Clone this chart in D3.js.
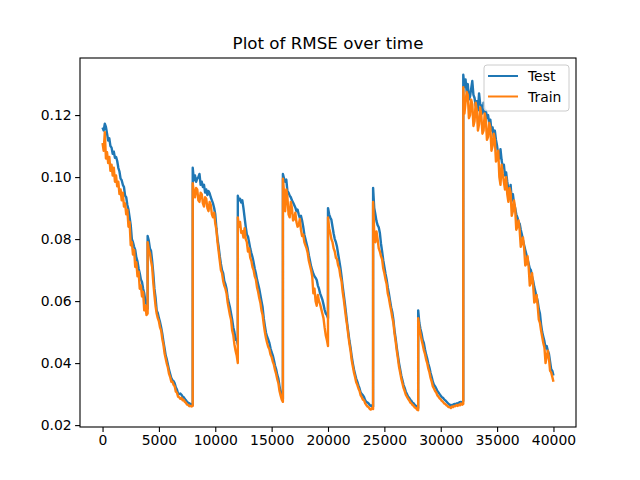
<!DOCTYPE html>
<html>
<head>
<meta charset="utf-8">
<script src="https://cdn.jsdelivr.net/npm/d3@7"></script>
<style>
  body { margin: 0; background: #fff; }
  svg { font-family: "DejaVu Sans", sans-serif; }
</style>
</head>
<body>
<svg id="chart" width="640" height="480"></svg>
<script>
// training runs restart at these steps, the last run goes to 40000
const runStarts = [0, 4000, 8000, 12000, 16000, 20000, 24000, 28000, 32000];
const runEnds = [4000, 8000, 12000, 16000, 20000, 24000, 28000, 32000, 40000];

const testRuns = [
  [0.1160, 0.1150, 0.1172, 0.1162, 0.1140, 0.1118, 0.1125, 0.1100, 0.1095, 0.1075, 0.1082,
   0.1062, 0.1065, 0.1052, 0.1030, 0.1018, 0.0995, 0.0990, 0.0975, 0.0968, 0.0940, 0.0935,
   0.0910, 0.0895, 0.0870, 0.0845, 0.0800, 0.0790, 0.0775, 0.0765, 0.0740, 0.0728, 0.0705,
   0.0690, 0.0670, 0.0662, 0.0640, 0.0625, 0.0600, 0.0590, 0.0575],
  [0.0810, 0.0795, 0.0770, 0.0762, 0.0730, 0.0690, 0.0640, 0.0612, 0.0570, 0.0562, 0.0545,
   0.0532, 0.0515, 0.0495, 0.0470, 0.0448, 0.0425, 0.0412, 0.0395, 0.0378, 0.0365, 0.0352,
   0.0345, 0.0342, 0.0335, 0.0322, 0.0315, 0.0302, 0.0300, 0.0302, 0.0298, 0.0292, 0.0290,
   0.0284, 0.0280, 0.0275, 0.0272, 0.0270, 0.0268, 0.0266, 0.0265],
  [0.1030, 0.0990, 0.1005, 0.0985, 0.0995, 0.1000, 0.1010, 0.0975, 0.0985, 0.0968, 0.0975,
   0.0950, 0.0960, 0.0942, 0.0955, 0.0948, 0.0935, 0.0925, 0.0915, 0.0900, 0.0880, 0.0835,
   0.0800, 0.0775, 0.0745, 0.0720, 0.0700, 0.0690, 0.0665, 0.0655, 0.0640, 0.0612, 0.0595,
   0.0580, 0.0560, 0.0540, 0.0515, 0.0500, 0.0475, 0.0478, 0.0460],
  [0.0940, 0.0925, 0.0930, 0.0918, 0.0925, 0.0900, 0.0870, 0.0840, 0.0815, 0.0808, 0.0790,
   0.0770, 0.0755, 0.0742, 0.0725, 0.0705, 0.0690, 0.0670, 0.0655, 0.0640, 0.0620, 0.0600,
   0.0580, 0.0545, 0.0520, 0.0498, 0.0485, 0.0476, 0.0465, 0.0448, 0.0435, 0.0425, 0.0410,
   0.0392, 0.0380, 0.0362, 0.0350, 0.0325, 0.0305, 0.0298, 0.0285],
  [0.1010, 0.0995, 0.0985, 0.0992, 0.0955, 0.0950, 0.0940, 0.0935, 0.0925, 0.0918, 0.0910,
   0.0902, 0.0890, 0.0895, 0.0880, 0.0868, 0.0875, 0.0860, 0.0840, 0.0815, 0.0800, 0.0785,
   0.0770, 0.0748, 0.0730, 0.0712, 0.0700, 0.0688, 0.0680, 0.0675, 0.0668, 0.0650, 0.0640,
   0.0625, 0.0615, 0.0605, 0.0590, 0.0572, 0.0560, 0.0555, 0.0545],
  [0.0900, 0.0880, 0.0870, 0.0862, 0.0840, 0.0818, 0.0800, 0.0790, 0.0775, 0.0752, 0.0730,
   0.0708, 0.0680, 0.0648, 0.0620, 0.0592, 0.0560, 0.0528, 0.0500, 0.0472, 0.0450, 0.0422,
   0.0400, 0.0380, 0.0365, 0.0350, 0.0340, 0.0328, 0.0318, 0.0305, 0.0300, 0.0296, 0.0290,
   0.0280, 0.0275, 0.0273, 0.0270, 0.0265, 0.0262, 0.0264, 0.0260],
  [0.0965, 0.0900, 0.0880, 0.0858, 0.0845, 0.0838, 0.0820, 0.0785, 0.0760, 0.0732, 0.0710,
   0.0688, 0.0670, 0.0645, 0.0625, 0.0602, 0.0580, 0.0565, 0.0540, 0.0505, 0.0480, 0.0450,
   0.0425, 0.0400, 0.0380, 0.0360, 0.0345, 0.0330, 0.0320, 0.0308, 0.0300, 0.0292, 0.0288,
   0.0282, 0.0278, 0.0272, 0.0270, 0.0265, 0.0262, 0.0258, 0.0255],
  [0.0570, 0.0530, 0.0510, 0.0495, 0.0475, 0.0465, 0.0445, 0.0428, 0.0415, 0.0398, 0.0385,
   0.0368, 0.0355, 0.0340, 0.0330, 0.0325, 0.0318, 0.0310, 0.0305, 0.0300, 0.0295, 0.0290,
   0.0288, 0.0283, 0.0280, 0.0276, 0.0272, 0.0268, 0.0266, 0.0262, 0.0265, 0.0266, 0.0268,
   0.0267, 0.0270, 0.0269, 0.0272, 0.0274, 0.0275, 0.0272, 0.0278],
  [0.1330, 0.1290, 0.1315, 0.1275, 0.1300, 0.1250, 0.1260, 0.1285, 0.1310, 0.1265, 0.1255,
   0.1230, 0.1245, 0.1215, 0.1270, 0.1235, 0.1230, 0.1205, 0.1240, 0.1210, 0.1215, 0.1190,
   0.1200, 0.1175, 0.1185, 0.1150, 0.1160, 0.1130, 0.1150, 0.1120, 0.1100, 0.1070, 0.1060,
   0.1090, 0.1055, 0.1030, 0.1040, 0.1005, 0.1015, 0.0985, 0.0960, 0.0945, 0.0975, 0.0925,
   0.0945, 0.0915, 0.0900, 0.0880, 0.0870, 0.0855, 0.0850, 0.0830, 0.0815, 0.0795, 0.0780,
   0.0765, 0.0750, 0.0735, 0.0720, 0.0705, 0.0700, 0.0678, 0.0665, 0.0645, 0.0630, 0.0615,
   0.0600, 0.0575, 0.0560, 0.0525, 0.0500, 0.0485, 0.0470, 0.0448, 0.0455, 0.0440, 0.0430,
   0.0405, 0.0380, 0.0375, 0.0360]
];

const trainRuns = [
  [0.1110, 0.1085, 0.1145, 0.1060, 0.1080, 0.1045, 0.1065, 0.1020, 0.1040, 0.1005, 0.1030,
   0.0985, 0.1005, 0.0970, 0.0985, 0.0945, 0.0960, 0.0925, 0.0950, 0.0905, 0.0915, 0.0880,
   0.0895, 0.0840, 0.0855, 0.0780, 0.0790, 0.0750, 0.0765, 0.0710, 0.0725, 0.0680, 0.0695,
   0.0640, 0.0650, 0.0615, 0.0630, 0.0570, 0.0585, 0.0555, 0.0560],
  [0.0790, 0.0765, 0.0755, 0.0730, 0.0710, 0.0660, 0.0620, 0.0585, 0.0560, 0.0545, 0.0535,
   0.0515, 0.0505, 0.0478, 0.0460, 0.0432, 0.0415, 0.0398, 0.0385, 0.0365, 0.0355, 0.0340,
   0.0340, 0.0330, 0.0325, 0.0308, 0.0305, 0.0292, 0.0290, 0.0285, 0.0288, 0.0280, 0.0282,
   0.0275, 0.0272, 0.0266, 0.0265, 0.0261, 0.0262, 0.0260, 0.0262],
  [0.0980, 0.0950, 0.0935, 0.0965, 0.0960, 0.0925, 0.0920, 0.0950, 0.0945, 0.0915, 0.0905,
   0.0935, 0.0930, 0.0900, 0.0890, 0.0920, 0.0910, 0.0880, 0.0870, 0.0885, 0.0850, 0.0830,
   0.0790, 0.0760, 0.0730, 0.0700, 0.0690, 0.0665, 0.0650, 0.0640, 0.0625, 0.0595, 0.0575,
   0.0555, 0.0540, 0.0505, 0.0490, 0.0460, 0.0440, 0.0425, 0.0400],
  [0.0870, 0.0840, 0.0855, 0.0820, 0.0825, 0.0805, 0.0835, 0.0800, 0.0790, 0.0760, 0.0770,
   0.0740, 0.0730, 0.0710, 0.0700, 0.0680, 0.0670, 0.0645, 0.0630, 0.0610, 0.0595, 0.0570,
   0.0555, 0.0525, 0.0500, 0.0480, 0.0465, 0.0452, 0.0445, 0.0428, 0.0420, 0.0405, 0.0395,
   0.0378, 0.0365, 0.0348, 0.0335, 0.0310, 0.0295, 0.0282, 0.0275],
  [0.0995, 0.0950, 0.0890, 0.0960, 0.0935, 0.0880, 0.0870, 0.0920, 0.0900, 0.0860, 0.0865,
   0.0885, 0.0855, 0.0840, 0.0845, 0.0865, 0.0830, 0.0810, 0.0815, 0.0790, 0.0780, 0.0770,
   0.0755, 0.0730, 0.0715, 0.0700, 0.0680, 0.0625, 0.0640, 0.0600, 0.0585, 0.0620, 0.0600,
   0.0590, 0.0575, 0.0560, 0.0545, 0.0515, 0.0490, 0.0475, 0.0455],
  [0.0870, 0.0835, 0.0820, 0.0800, 0.0790, 0.0770, 0.0760, 0.0740, 0.0735, 0.0715, 0.0705,
   0.0680, 0.0665, 0.0630, 0.0605, 0.0575, 0.0545, 0.0520, 0.0490, 0.0462, 0.0440, 0.0410,
   0.0390, 0.0370, 0.0355, 0.0338, 0.0330, 0.0318, 0.0310, 0.0296, 0.0290, 0.0282, 0.0280,
   0.0270, 0.0265, 0.0260, 0.0258, 0.0252, 0.0250, 0.0255, 0.0252],
  [0.0920, 0.0820, 0.0790, 0.0825, 0.0800, 0.0770, 0.0760, 0.0745, 0.0735, 0.0705, 0.0690,
   0.0670, 0.0655, 0.0625, 0.0610, 0.0588, 0.0570, 0.0548, 0.0530, 0.0495, 0.0470, 0.0440,
   0.0415, 0.0388, 0.0370, 0.0350, 0.0335, 0.0320, 0.0310, 0.0298, 0.0292, 0.0285, 0.0280,
   0.0273, 0.0270, 0.0265, 0.0262, 0.0257, 0.0255, 0.0250, 0.0248],
  [0.0545, 0.0515, 0.0495, 0.0475, 0.0460, 0.0442, 0.0430, 0.0412, 0.0400, 0.0382, 0.0370,
   0.0352, 0.0340, 0.0325, 0.0318, 0.0310, 0.0305, 0.0296, 0.0292, 0.0286, 0.0283, 0.0278,
   0.0275, 0.0270, 0.0268, 0.0264, 0.0262, 0.0258, 0.0258, 0.0255, 0.0260, 0.0258, 0.0262,
   0.0261, 0.0265, 0.0262, 0.0266, 0.0264, 0.0270, 0.0266, 0.0268],
  [0.1290, 0.1205, 0.1240, 0.1275, 0.1265, 0.1190, 0.1200, 0.1250, 0.1235, 0.1165, 0.1180,
   0.1240, 0.1215, 0.1150, 0.1170, 0.1225, 0.1200, 0.1140, 0.1150, 0.1205, 0.1185, 0.1120,
   0.1130, 0.1175, 0.1160, 0.1085, 0.1100, 0.1140, 0.1120, 0.1050, 0.1060, 0.1085, 0.1000,
   0.0975, 0.1040, 0.1010, 0.0985, 0.0960, 0.1000, 0.0945, 0.0920, 0.0965, 0.0950, 0.0875,
   0.0890, 0.0925, 0.0900, 0.0830, 0.0840, 0.0860, 0.0830, 0.0775, 0.0790, 0.0805, 0.0770,
   0.0715, 0.0720, 0.0745, 0.0710, 0.0650, 0.0660, 0.0690, 0.0650, 0.0595, 0.0600, 0.0620,
   0.0585, 0.0540, 0.0530, 0.0505, 0.0485, 0.0465, 0.0450, 0.0400, 0.0420, 0.0440, 0.0415,
   0.0375, 0.0370, 0.0355, 0.0340]
];

const xTicks = [0, 5000, 10000, 15000, 20000, 25000, 30000, 35000, 40000];
const yTicks = [0.02, 0.04, 0.06, 0.08, 0.10, 0.12];
const seriesNames = ['Test', 'Train'];
const seriesColors = ['#1f77b4', '#ff7f0e'];
const title = 'Plot of RMSE over time';

const margin = {top: 58, right: 64, bottom: 53, left: 80};
const width = 640 - margin.left - margin.right;
const height = 480 - margin.top - margin.bottom;

const svg = d3.select('#chart');
const g = svg.append('g').attr('transform', `translate(${margin.left},${margin.top})`);

// turn each run into [step, value] pairs, last sample sits one step before the restart
function toPoints(runs) {
  const points = [];
  runs.forEach((vals, r) => {
    const pos = d3.scaleLinear().domain([0, vals.length - 1]).range([runStarts[r], runEnds[r] - 1]);
    vals.forEach((v, i) => points.push([pos(i), v]));
  });
  return points;
}
const series = [toPoints(testRuns), toPoints(trainRuns)];

const allValues = series.flat();
const xExtent = d3.extent(allValues, d => d[0]);
const yExtent = d3.extent(allValues, d => d[1]);
const xPad = (xExtent[1] - xExtent[0]) * 0.05;
const yPad = (yExtent[1] - yExtent[0]) * 0.05;

const xScale = d3.scaleLinear().domain([xExtent[0] - xPad, xExtent[1] + xPad]).range([0, width]);
const yScale = d3.scaleLinear().domain([yExtent[0] - yPad, yExtent[1] + yPad]).range([height, 0]);

g.append('clipPath').attr('id', 'plot-clip')
  .append('rect').attr('width', width).attr('height', height);

const line = d3.line()
  .x(d => xScale(d[0]))
  .y(d => yScale(d[1]));

// thick strokes stand in for the dense step-to-step noise of the original
g.append('g').attr('clip-path', 'url(#plot-clip)')
  .selectAll('.series')
  .data(series)
  .enter()
  .append('path')
  .attr('class', 'series')
  .attr('d', line)
  .attr('fill', 'none')
  .attr('stroke', (d, i) => seriesColors[i])
  .attr('stroke-width', 2.4)
  .attr('stroke-linejoin', 'round');

// Axes
const xAxis = g.append('g')
  .attr('transform', `translate(0,${height})`)
  .call(d3.axisBottom(xScale).tickValues(xTicks).tickFormat(d3.format('d'))
    .tickSize(4.9).tickPadding(3.5).tickSizeOuter(0));
const yAxis = g.append('g')
  .call(d3.axisLeft(yScale).tickValues(yTicks).tickFormat(d3.format('.2f'))
    .tickSize(4.9).tickPadding(3.5).tickSizeOuter(0));

[xAxis, yAxis].forEach(ax => {
  ax.select('.domain').remove();
  ax.selectAll('.tick line').attr('stroke', '#000').attr('stroke-width', 1.1);
  ax.selectAll('.tick text')
    .attr('fill', '#000')
    .style('font-family', '"DejaVu Sans", sans-serif')
    .style('font-size', '13.9px');
});

g.append('rect')
  .attr('width', width)
  .attr('height', height)
  .attr('fill', 'none')
  .attr('stroke', '#000')
  .attr('stroke-width', 1.1);

svg.append('text')
  .attr('x', margin.left + width / 2)
  .attr('y', 49)
  .attr('text-anchor', 'middle')
  .style('font-size', '16.7px')
  .text(title);

// Legend
const legend = g.append('g').attr('transform', `translate(${width - 92},7)`);
legend.append('rect')
  .attr('width', 85)
  .attr('height', 46)
  .attr('rx', 3)
  .attr('fill', '#fff')
  .attr('fill-opacity', 0.8)
  .attr('stroke', '#ccc');

const items = legend.selectAll('.legend-item')
  .data(seriesNames)
  .enter()
  .append('g')
  .attr('class', 'legend-item')
  .attr('transform', (d, i) => `translate(0,${11 + i * 20.5})`);

items.append('line')
  .attr('x1', 4).attr('x2', 34)
  .attr('stroke', (d, i) => seriesColors[i])
  .attr('stroke-width', 2);

items.append('text')
  .attr('x', 44)
  .attr('dy', '0.36em')
  .style('font-size', '13.9px')
  .text(d => d);
</script>
</body>
</html>
